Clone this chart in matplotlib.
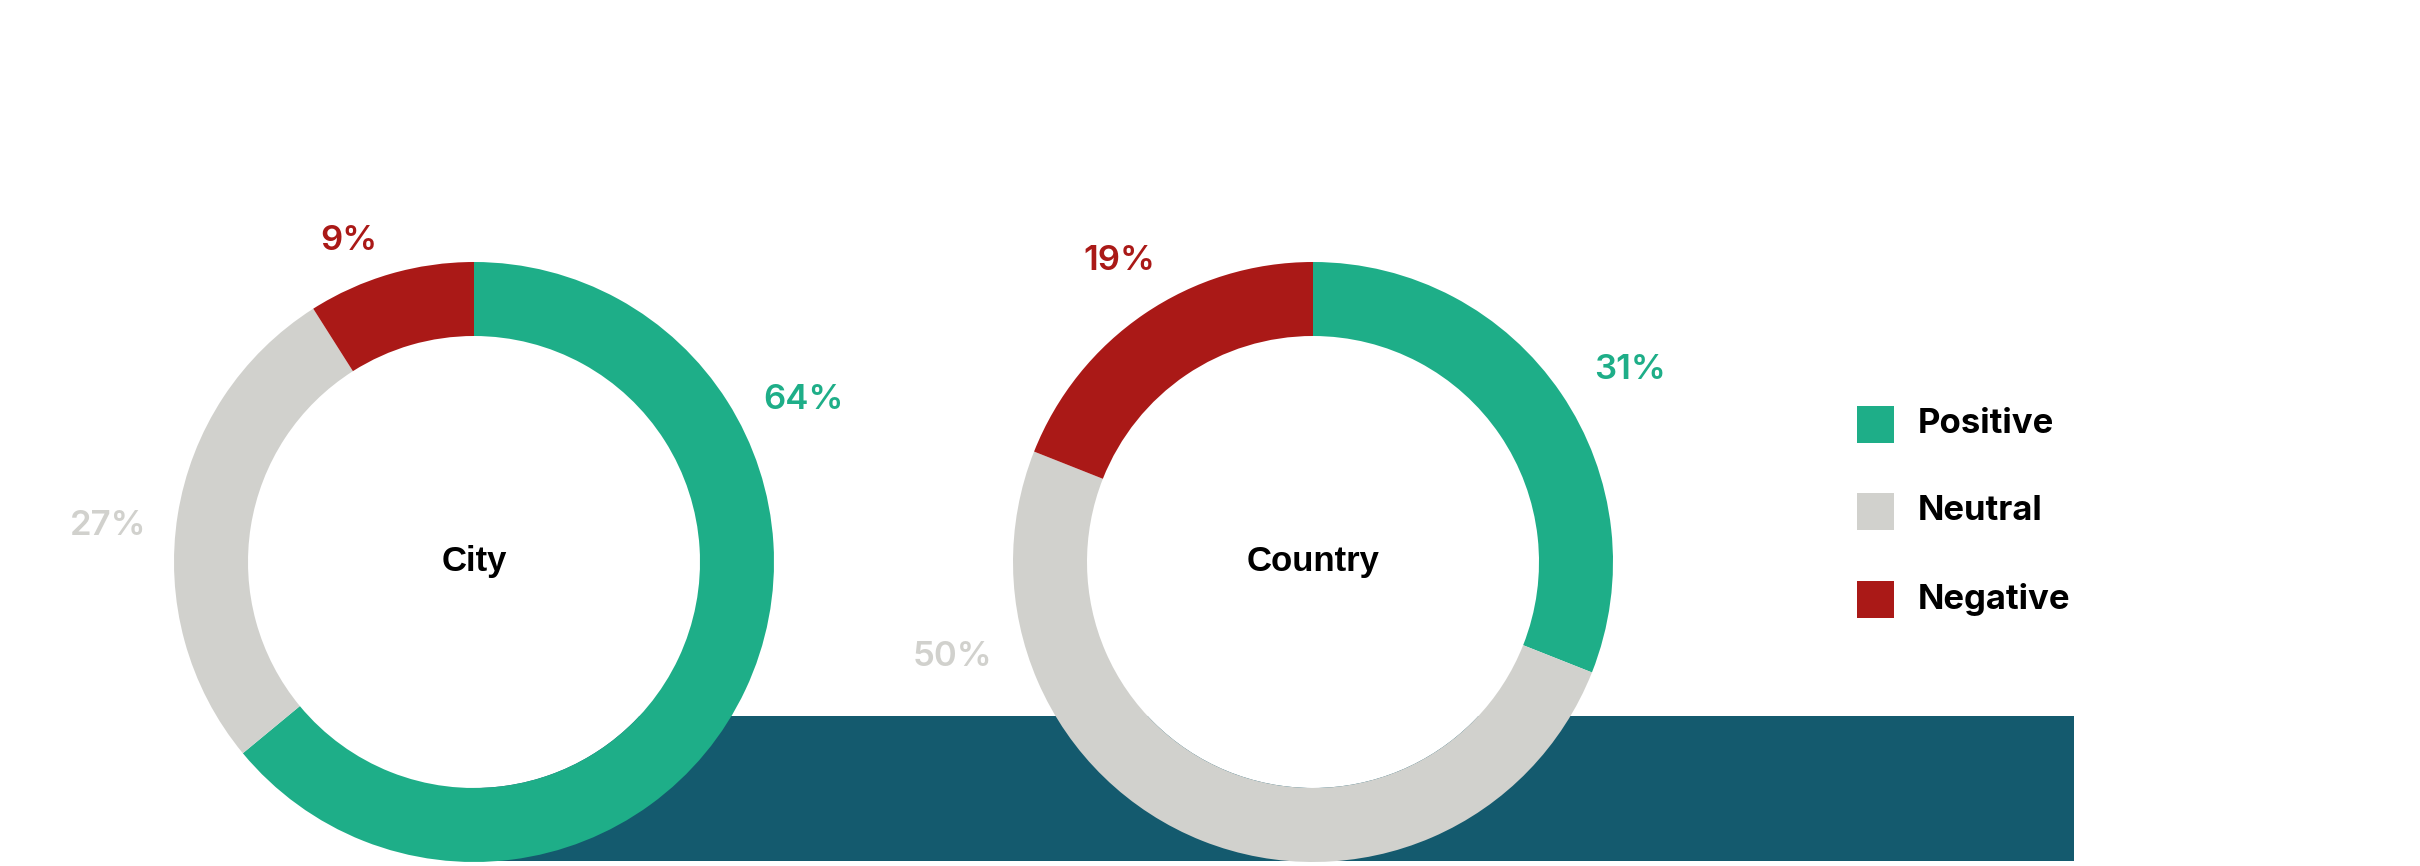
import matplotlib
matplotlib.use("Agg")
import matplotlib.pyplot as plt
import matplotlib.patches as mpatches

# ── DATA ─────────────────────────────────────────────────────────────────────
categories = ["Positive", "Neutral", "Negative"]
city_values = [64, 27, 9]
country_values = [31, 50, 19]
donut_titles = ["City", "Country"]

# ── STYLE ────────────────────────────────────────────────────────────────────
COLORS = ["#1EAE88", "#D1D1CD", "#AA1917"]
BAND = "#145A6E"
W, H = 2420, 866

fig = plt.figure(figsize=(W / 100, H / 100), dpi=100)
ax = fig.add_axes([0, 0, 1, 1])

def fy(y):
    # image rows (top-down) -> axis y (bottom-up)
    return H - y

R_OUT = 300
R_IN = 226

# background band behind the donuts
ax.add_patch(mpatches.Rectangle((474, fy(861)), 2074 - 474, 861 - 716,
                                color=BAND, zorder=1, lw=0))

donuts = [
    (city_values, (474, 562),
     [(803, 400), (108, 526), (349, 241)]),
    (country_values, (1313, 562),
     [(1630, 370), (952, 657), (1119, 261)]),
]

for (vals, (cx, cy), lab_pos), title in zip(donuts, donut_titles):
    wedges, _ = ax.pie(vals, colors=COLORS, startangle=90, counterclock=False,
                       radius=R_OUT, center=(cx, fy(cy)),
                       wedgeprops=dict(width=R_OUT - R_IN, linewidth=0))
    for w in wedges:
        w.set_zorder(3)
    ax.add_patch(mpatches.Circle((cx, fy(cy)), R_IN, color="white", zorder=2, lw=0))
    ax.text(cx, fy(cy), title, ha="center", va="center", fontsize=25,
            fontweight="bold", family="Liberation Sans", color="black", zorder=4)
    for v, col, (lx, ly) in zip(vals, COLORS, lab_pos):
        ax.text(lx, fy(ly), f"{v}%", ha="center", va="center", fontsize=25,
                fontweight="semibold", family="Inter", color=col, zorder=4)

# ── LEGEND (manual) ──────────────────────────────────────────────────────────
leg_y = [424, 511, 599]
for name, col, ly in zip(categories, COLORS, leg_y):
    ax.add_patch(mpatches.Rectangle((1857, fy(ly) - 18.5), 37, 37,
                                    color=col, lw=0, zorder=4))
    ax.text(1918, fy(ly), name, ha="left", va="center", fontsize=25,
            fontweight="bold", family="Inter", color="black")

ax.set_xlim(0, W)
ax.set_ylim(0, H)
ax.set_aspect("equal")
ax.axis("off")

fig.savefig("out.png", dpi=100, facecolor="white")
